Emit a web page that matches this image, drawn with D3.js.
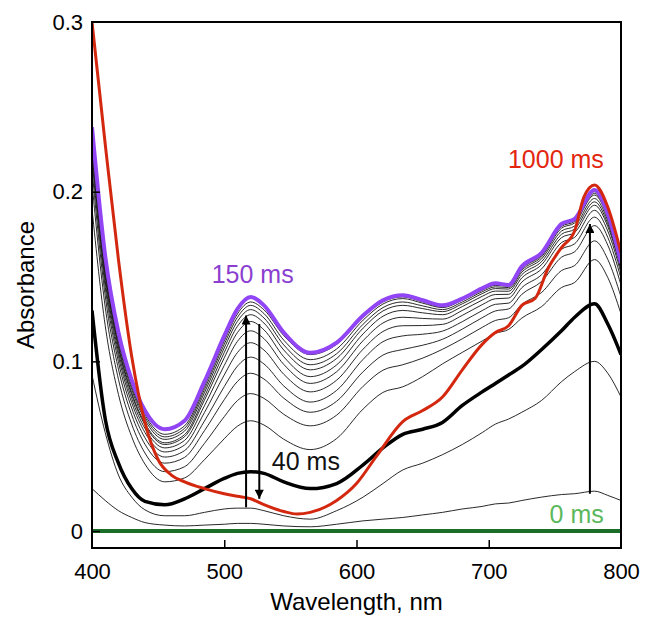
<!DOCTYPE html>
<html>
<head>
<meta charset="utf-8">
<script src="https://cdn.jsdelivr.net/npm/d3@7"></script>
<style>
  html, body { margin: 0; padding: 0; background: #fff; }
  svg { display: block; }
  text { font-family: "Liberation Sans", Arial, Helvetica, sans-serif; }
</style>
</head>
<body>
<svg id="chart" width="645" height="620"></svg>
<script>
// ---- data ----
const wavelengths = [400,410,420,430,440,455,470,485,500,510,520,530,545,565,585,605,620,635,650,665,680,695,705,715,725,740,755,765,780,790,800];

const trace0ms = [0,0,0,0,0,0,0,0,0,0,0,0,0,0,0,0,0,0,0,0,0,0,0,0,0,0,0,0,0,0,0];
const traceA = [.025,.018,.012,.008,.005,.0035,.003,.0035,.004,.0045,.0045,.004,.003,.0025,.004,.006,.007,.008,.0095,.011,.013,.0145,.016,.0165,.018,.020,.0215,.022,.0235,.021,.018];
const traceB = [.092,.058,.033,.020,.0125,.009,.009,.011,.013,.0135,.0135,.012,.009,.007,.012,.020,.028,.036,.040,.045,.051,.058,.063,.066,.070,.077,.088,.094,.100,.093,.079];
const trace40ms = [.130,.066,.040,.025,.0175,.0155,.019,.025,.031,.034,.035,.034,.029,.025,.028,.039,.049,.057,.060,.064,.074,.082,.087,.092,.097,.107,.118,.126,.134,.122,.104];
const traceC = [.190,.121,.0805,.0556,.0395,.029,.0313,.042,.0544,.0618,.065,.0625,.0541,.048,.0545,.0719,.0817,.085,.091,.0985,.1053,.112,.1165,.1188,.1255,.1323,.1435,.1465,.160,.1494,.128];
const traceD = [.205,.132,.0894,.063,.046,.035,.0379,.0516,.0674,.0769,.081,.0782,.0688,.062,.0683,.0853,.0948,.098,.1019,.1071,.1133,.120,.1241,.1257,.1335,.1406,.1535,.1565,.171,.1601,.138];
const traceE = [.213,.1386,.0954,.0685,.0512,.040,.0434,.0591,.0774,.0882,.093,.0896,.0783,.070,.0765,.0939,.1037,.107,.1095,.113,.119,.1257,.1297,.1309,.1395,.1471,.1614,.1646,.180,.1685,.145];
const traceF = [.219,.1436,.0997,.0725,.055,.0436,.0474,.0648,.0851,.0972,.1025,.0985,.0855,.076,.0829,.1012,.1116,.115,.116,.1178,.1234,.1299,.1336,.1343,.1434,.1511,.1661,.1693,.185,.1731,.149];
const traceG = [.223,.1471,.103,.0757,.0581,.0466,.0507,.0698,.092,.1052,.111,.1067,.0924,.082,.0889,.1072,.1176,.121,.1211,.1218,.1271,.1334,.1369,.1373,.1467,.1545,.170,.1731,.189,.1768,.152];
const traceH = [.226,.1499,.1056,.0782,.0605,.049,.0534,.0738,.0976,.1118,.118,.1134,.0982,.087,.0939,.1122,.1226,.126,.1253,.1249,.130,.1361,.1394,.1395,.1492,.157,.1729,.176,.192,.1795,.154];
const traceI = [.229,.1525,.108,.0804,.0626,.051,.0556,.0771,.1021,.117,.1235,.1186,.1027,.091,.0979,.1162,.1266,.130,.1286,.1275,.1323,.1383,.1414,.1413,.1511,.1588,.1749,.178,.194,.1811,.155];
const traceJ = [.231,.154,.1093,.0815,.0636,.052,.0568,.0792,.1052,.1207,.1275,.1226,.1067,.095,.1017,.1196,.1297,.133,.1311,.1293,.1339,.1399,.1429,.1426,.1526,.1604,.1768,.1798,.196,.1828,.156];
const traceK = [.233,.156,.1113,.0835,.0656,.054,.0589,.0815,.1079,.1236,.1305,.1256,.1097,.098,.1045,.1219,.1317,.135,.1327,.1305,.135,.141,.1439,.1435,.1537,.1616,.1785,.1816,.198,.1845,.157];
const traceL = [.235,.1578,.1129,.0851,.0672,.0555,.0605,.0834,.1101,.126,.133,.1282,.1125,.101,.1073,.1243,.1338,.137,.1343,.1317,.1361,.1419,.1448,.1443,.1546,.1625,.1795,.1825,.199,.1851,.157];
const traceM = [.236,.159,.1143,.0865,.0686,.057,.062,.0851,.112,.128,.135,.1304,.1152,.104,.110,.126,.135,.138,.1351,.1321,.1365,.1424,.1452,.1446,.1551,.1631,.1803,.1834,.200,.1861,.158];
const trace150ms = [.238,.162,.117,.089,.071,.060,.065,.088,.115,.131,.138,.133,.117,.105,.111,.127,.136,.139,.136,.133,.137,.143,.146,.145,.156,.164,.181,.184,.201,.187,.158];

const wavelengths1000 = [400,410,420,430,440,450,460,470,485,500,510,520,530,545,555,565,585,600,615,635,650,665,680,695,705,715,725,735,745,755,765,772,780,790,800];
const trace1000ms = [.300,.228,.160,.103,.064,.042,.033,.029,.025,.022,.0205,.019,.0155,.0115,.010,.011,.018,.028,.044,.0645,.071,.079,.095,.110,.117,.121,.133,.137,.155,.167,.177,.197,.204,.191,.164];

const thinTraces = [traceA, traceB, traceC, traceD, traceE, traceF, traceG, traceH, traceI, traceJ, traceK, traceL, traceM];

const xTicks = [400, 500, 600, 700, 800];
const yTicks = [0, 0.1, 0.2, 0.3];

// arrows: [wavelength, from, to]
const arrows = [
  {w: 516.5, from: 0.014, to: 0.127},
  {w: 526.5, from: 0.122, to: 0.019},
  {w: 776.5, from: 0.022, to: 0.181}
];

// label anchor: left edge wavelength, baseline absorbance
const labels = [
  {text: "150 ms", w: 490.5, v: 0.146, color: "#8b3fd0"},
  {text: "1000 ms", w: 714.5, v: 0.214, color: "#e3260e"},
  {text: "40 ms", w: 536, v: 0.036, color: "#111"},
  {text: "0 ms", w: 746, v: 0.0045, color: "#5cb85c"}
];

// ---- layout ----
const svg = d3.select("#chart");
const L = 92, T = 22, R = 621, B = 548;
const x = d3.scaleLinear().domain([400, 800]).range([L, R]);
const y = d3.scaleLinear().domain([-0.01, 0.3]).range([B, T]);

const line = (ws) => d3.line()
  .x((d, i) => x(ws[i]))
  .y(d => y(d))
  .curve(d3.curveMonotoneX);

svg.append("clipPath").attr("id", "plotclip")
  .append("rect").attr("x", L).attr("y", T - 2).attr("width", R - L).attr("height", B - T + 2);

const g = svg.append("g").attr("clip-path", "url(#plotclip)");

thinTraces.forEach(t => {
  g.append("path").attr("d", line(wavelengths)(t))
    .attr("fill", "none").attr("stroke", "#111").attr("stroke-width", 0.9);
});
g.append("path").attr("d", line(wavelengths)(trace0ms))
  .attr("fill", "none").attr("stroke", "#1b6e28").attr("stroke-width", 4);
g.append("path").attr("d", line(wavelengths)(trace40ms))
  .attr("fill", "none").attr("stroke", "#000").attr("stroke-width", 3.5);
g.append("path").attr("d", line(wavelengths)(trace150ms))
  .attr("fill", "none").attr("stroke", "#9245f5").attr("stroke-width", 4);
g.append("path").attr("d", line(wavelengths1000)(trace1000ms))
  .attr("fill", "none").attr("stroke", "#d3280f").attr("stroke-width", 3);

const defs = svg.append("defs");
defs.append("marker").attr("id", "ah")
  .attr("viewBox", "0 0 10 10").attr("refX", 10).attr("refY", 5)
  .attr("markerWidth", 5.5).attr("markerHeight", 4.5).attr("markerUnits", "strokeWidth")
  .attr("orient", "auto")
  .append("path").attr("d", "M0,0 L10,5 L0,10 Z").attr("fill", "#000");

arrows.forEach(a => {
  svg.append("line")
    .attr("x1", x(a.w)).attr("x2", x(a.w))
    .attr("y1", y(a.from)).attr("y2", y(a.to))
    .attr("stroke", "#000").attr("stroke-width", 2)
    .attr("marker-end", "url(#ah)");
});

svg.append("rect").attr("x", L).attr("y", T).attr("width", R - L).attr("height", B - T)
  .attr("fill", "none").attr("stroke", "#000").attr("stroke-width", 2);

const xAxis = svg.append("g").attr("transform", `translate(0,${B})`)
  .call(d3.axisBottom(x).tickValues(xTicks).tickSize(-8).tickPadding(15).tickFormat(d3.format("d")));
const yAxis = svg.append("g").attr("transform", `translate(${L},0)`)
  .call(d3.axisLeft(y).tickValues(yTicks).tickSize(-8).tickPadding(9)
    .tickFormat(d => d === 0 ? "0" : d3.format(".1f")(d)));
[xAxis, yAxis].forEach(ax => {
  ax.select(".domain").remove();
  ax.selectAll(".tick line").attr("stroke", "#000").attr("stroke-width", 1.5);
  ax.selectAll(".tick text").attr("fill", "#000").style("font-size", "22px")
    .style("font-family", '"Liberation Sans", Arial, sans-serif');
});
xAxis.selectAll(".tick").filter(d => d === 400 || d === 800).select("line").remove();
yAxis.selectAll(".tick").filter(d => d === 0.3).select("line").remove();

svg.append("text").attr("x", (L + R) / 2).attr("y", 610).attr("text-anchor", "middle")
  .style("font-size", "24px").attr("fill", "#000").text("Wavelength, nm");
svg.append("text").attr("transform", `translate(34,${(T + B) / 2}) rotate(-90)`)
  .attr("text-anchor", "middle").style("font-size", "24px").attr("fill", "#000").text("Absorbance");

labels.forEach(l => {
  svg.append("text").attr("x", x(l.w)).attr("y", y(l.v)).attr("text-anchor", "start")
    .style("font-size", "25px").attr("fill", l.color).text(l.text);
});
</script>
</body>
</html>
